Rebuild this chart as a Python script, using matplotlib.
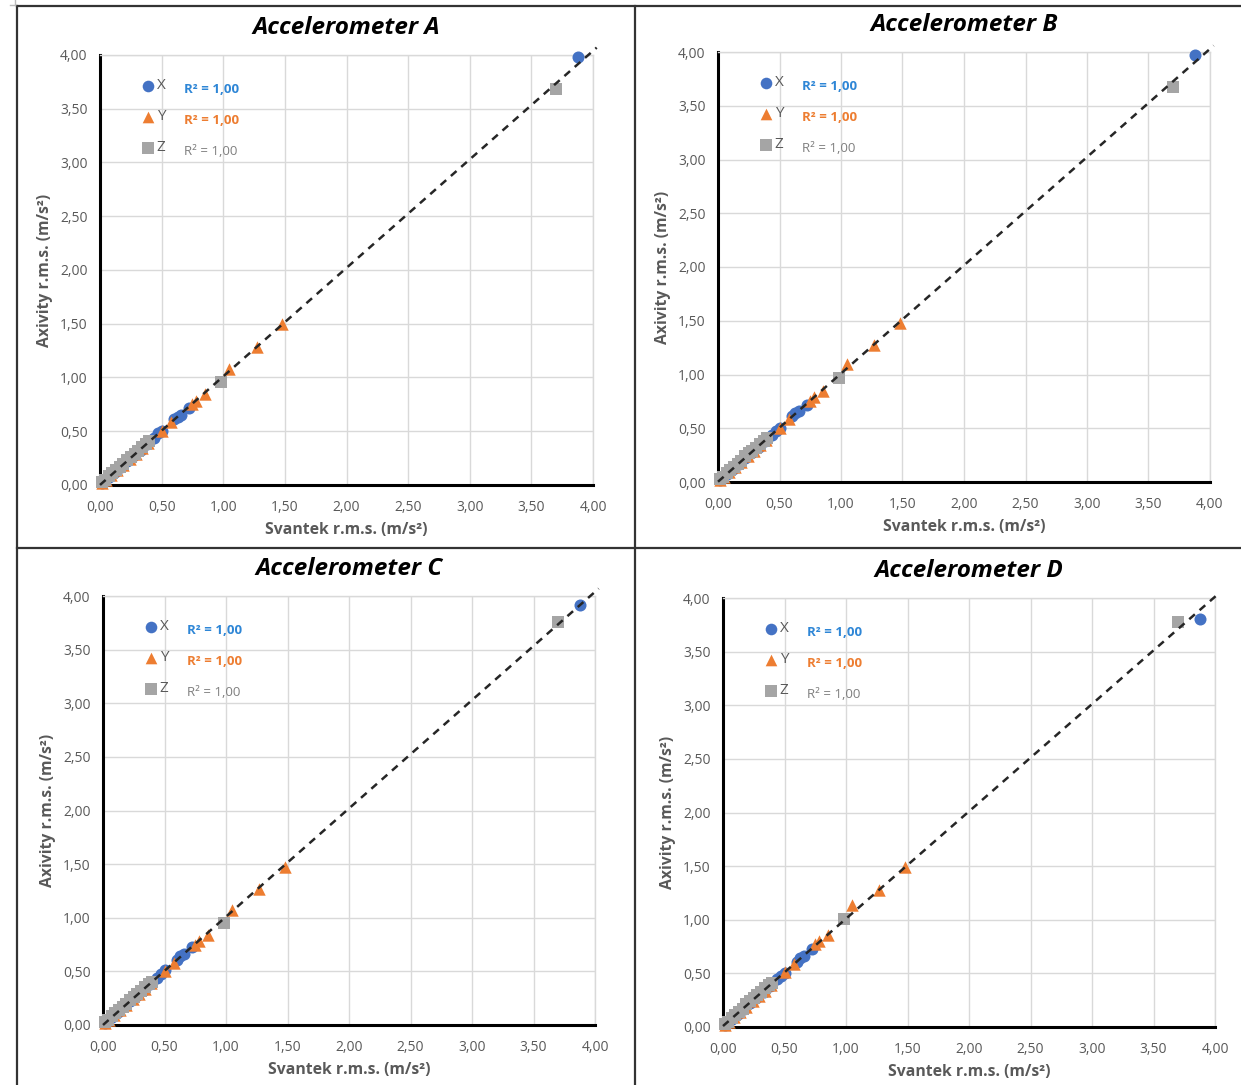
import numpy as np
import matplotlib
matplotlib.use("Agg")
import matplotlib.pyplot as plt
from matplotlib.lines import Line2D
from matplotlib.ticker import FuncFormatter, MultipleLocator

plt.rcParams['font.family'] = ['Open Sans', 'DejaVu Sans']

panels = ['Accelerometer A', 'Accelerometer B', 'Accelerometer C', 'Accelerometer D']
series = ['X', 'Y', 'Z']

# reference device (Svantek) r.m.s. values, same for all four panels
svantek_x = [0.02, 0.04, 0.07, 0.12, 0.17, 0.22, 0.27, 0.33, 0.38, 0.44, 0.47, 0.50, 0.60, 0.63, 0.66, 0.72, 3.88]
svantek_y = [0.02, 0.05, 0.09, 0.14, 0.19, 0.24, 0.29, 0.34, 0.39, 0.50, 0.58, 0.75, 0.78, 0.85, 1.05, 1.27, 1.48]
svantek_z = [0.02, 0.04, 0.07, 0.10, 0.13, 0.16, 0.19, 0.22, 0.25, 0.28, 0.31, 0.34, 0.37, 0.40, 0.98, 3.70]

# Axivity r.m.s. values per accelerometer
axivity_a_x = [0.02, 0.04, 0.07, 0.12, 0.17, 0.22, 0.27, 0.33, 0.38, 0.44, 0.48, 0.50, 0.61, 0.63, 0.65, 0.72, 3.98]
axivity_a_y = [0.02, 0.05, 0.09, 0.14, 0.19, 0.24, 0.29, 0.34, 0.39, 0.50, 0.59, 0.75, 0.78, 0.85, 1.08, 1.28, 1.50]
axivity_a_z = [0.03, 0.05, 0.08, 0.11, 0.14, 0.17, 0.20, 0.23, 0.26, 0.29, 0.32, 0.35, 0.38, 0.41, 0.96, 3.68]

axivity_b_x = [0.02, 0.04, 0.07, 0.12, 0.17, 0.22, 0.27, 0.33, 0.38, 0.44, 0.47, 0.50, 0.61, 0.64, 0.66, 0.72, 3.97]
axivity_b_y = [0.02, 0.05, 0.09, 0.14, 0.19, 0.24, 0.29, 0.34, 0.39, 0.50, 0.59, 0.75, 0.79, 0.85, 1.10, 1.27, 1.48]
axivity_b_z = [0.03, 0.05, 0.08, 0.11, 0.14, 0.17, 0.20, 0.24, 0.27, 0.29, 0.32, 0.35, 0.38, 0.41, 0.97, 3.67]

axivity_c_x = [0.02, 0.04, 0.07, 0.12, 0.18, 0.22, 0.27, 0.33, 0.38, 0.44, 0.48, 0.51, 0.61, 0.64, 0.66, 0.73, 3.92]
axivity_c_y = [0.02, 0.05, 0.09, 0.14, 0.19, 0.24, 0.29, 0.34, 0.39, 0.50, 0.58, 0.75, 0.78, 0.84, 1.07, 1.27, 1.47]
axivity_c_z = [0.03, 0.05, 0.08, 0.11, 0.14, 0.17, 0.20, 0.23, 0.26, 0.29, 0.32, 0.35, 0.38, 0.40, 0.95, 3.76]

axivity_d_x = [0.02, 0.04, 0.07, 0.12, 0.17, 0.22, 0.27, 0.33, 0.38, 0.45, 0.48, 0.50, 0.61, 0.64, 0.66, 0.73, 3.80]
axivity_d_y = [0.02, 0.05, 0.09, 0.14, 0.19, 0.24, 0.29, 0.34, 0.39, 0.51, 0.59, 0.77, 0.80, 0.86, 1.14, 1.28, 1.49]
axivity_d_z = [0.03, 0.05, 0.08, 0.11, 0.14, 0.17, 0.21, 0.24, 0.27, 0.30, 0.33, 0.36, 0.39, 0.41, 1.01, 3.78]

svantek = [svantek_x, svantek_y, svantek_z]
axivity = [
    [axivity_a_x, axivity_a_y, axivity_a_z],
    [axivity_b_x, axivity_b_y, axivity_b_z],
    [axivity_c_x, axivity_c_y, axivity_c_z],
    [axivity_d_x, axivity_d_y, axivity_d_z],
]

colors = ['#4472C4', '#ED7D31', '#A5A5A5']
r2_colors = ['#2E86D6', '#ED7D31', '#7F7F7F']
r2_weights = ['bold', 'bold', 'normal']
markers = ['o', '^', 's']
sizes = [75, 80, 75]
text_gray = '#595959'

W, H = 1241, 1085
fig = plt.figure(figsize=(W / 100, H / 100), dpi=100)

# axes boxes in pixels: left, top, right, bottom
boxes = [(100, 55, 593, 485), (718, 52, 1210, 482),
         (103, 596, 595, 1025), (723, 598, 1215, 1027)]

fmt = FuncFormatter(lambda v, p: f"{v:.2f}".replace('.', ','))

for k, (title, box) in enumerate(zip(panels, boxes)):
    l, t, r, b = box
    ax = fig.add_axes([l / W, 1 - b / H, (r - l) / W, (b - t) / H])
    ax.set_xlim(0, 4)
    ax.set_ylim(0, 4)
    ax.xaxis.set_major_locator(MultipleLocator(0.5))
    ax.yaxis.set_major_locator(MultipleLocator(0.5))
    ax.xaxis.set_major_formatter(fmt)
    ax.yaxis.set_major_formatter(fmt)
    ax.grid(True, color='#D9D9D9', linewidth=1)
    ax.set_axisbelow(True)
    for s in ['top', 'right']:
        ax.spines[s].set_color('#D9D9D9')
        ax.spines[s].set_linewidth(1)
    for s in ['left', 'bottom']:
        ax.spines[s].set_color('black')
        ax.spines[s].set_linewidth(2.2)
    ax.tick_params(length=0, labelsize=10, labelcolor=text_gray)
    ax.tick_params(axis='x', pad=11)
    ax.tick_params(axis='y', pad=9)

    allx, ally = [], []
    for i in range(3):
        xs = np.array(svantek[i])
        ys = np.array(axivity[k][i])
        allx += list(xs)
        ally += list(ys)
        ax.scatter(xs, ys, marker=markers[i], s=sizes[i],
                   color=colors[i], zorder=3, clip_on=False, linewidths=0)

    # linear trendline
    slope, icpt = np.polyfit(allx, ally, 1)
    tx = np.array([0.0, 4.03])
    ax.plot(tx, slope * tx + icpt, color='#262626', linestyle=(0, (3, 2.5)),
            linewidth=1.8, zorder=4, clip_on=False)

    # legend with R² per axis
    for i in range(3):
        xs = np.array(svantek[i])
        ys = np.array(axivity[k][i])
        r2 = np.corrcoef(xs, ys)[0, 1] ** 2
        yy = 0.928 - i * 0.072
        ax.scatter([0.097], [yy], marker=markers[i], s=70, color=colors[i],
                   transform=ax.transAxes, clip_on=False, zorder=5, linewidths=0)
        ax.text(0.115, yy, series[i], transform=ax.transAxes, va='center',
                ha='left', fontsize=11, color=text_gray)
        ax.text(0.17, yy - 0.008, f"R² = {r2:.2f}".replace('.', ','),
                transform=ax.transAxes, va='center', ha='left', fontsize=9.5,
                color=r2_colors[i], fontweight=r2_weights[i])

    ax.set_title(title, fontsize=17.5, fontweight='bold', fontstyle='italic',
                 pad=15)
    ax.set_xlabel('Svantek r.m.s. (m/s²)', fontsize=11.3, color=text_gray,
                  fontweight='bold', labelpad=5)
    ax.set_ylabel('Axivity r.m.s. (m/s²)', fontsize=11.3, color=text_gray,
                  fontweight='bold', labelpad=5)

# table borders around the four panels
def hline(y, x0, x1, color='#333333', lw=1.6):
    fig.add_artist(Line2D([x0 / W, x1 / W], [1 - y / H, 1 - y / H],
                          color=color, linewidth=lw))

def vline(x, y0, y1, color='#333333', lw=1.6):
    fig.add_artist(Line2D([x / W, x / W], [1 - y0 / H, 1 - y1 / H],
                          color=color, linewidth=lw))

hline(6, 17, W)
hline(548, 17, W)
vline(17, 6, H)
vline(635, 6, H)
vline(15, 0, 5, color='#BBBBBB', lw=1)
hline(5, 10, 15, color='#BBBBBB', lw=1)

fig.savefig('out.png', dpi=100)
